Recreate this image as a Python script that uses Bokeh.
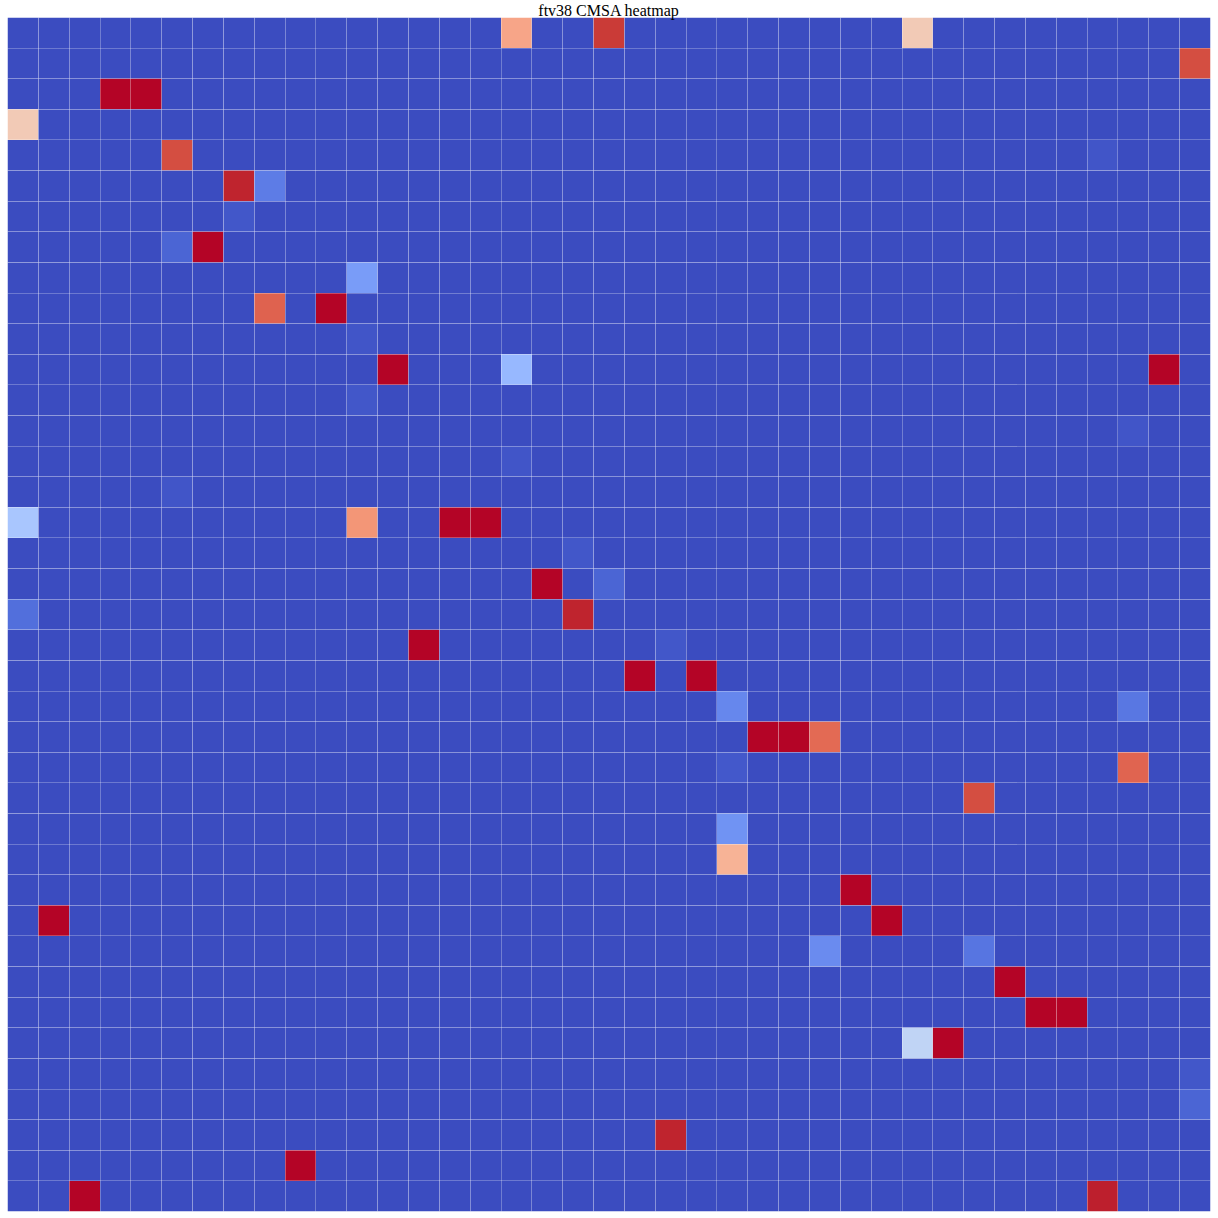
from bokeh.plotting import figure
from bokeh.models import Range1d, LinearColorMapper, ColumnDataSource, Grid, FixedTicker
from bokeh.embed import file_html
from bokeh.resources import INLINE

# ---- data ----
N = 39
title_text = "ftv38 CMSA heatmap"
rows = [0, 0, 0, 1, 2, 2, 3, 4, 4, 5, 5, 6, 7, 7, 8, 9, 9, 10, 11, 11, 11, 12, 13, 14, 15,
        16, 16, 16, 16, 17, 18, 18, 19, 19, 20, 20, 21, 21, 22, 22, 23, 23, 23, 24, 24, 25,
        26, 27, 28, 29, 29, 30, 30, 31, 32, 32, 33, 33, 34, 35, 36, 37, 38, 38]
cols = [16, 19, 29, 38, 3, 4, 0, 5, 35, 7, 8, 7, 5, 6, 11, 8, 10, 11, 12, 16, 37, 11, 36, 16, 5,
        0, 11, 14, 15, 18, 17, 19, 0, 18, 13, 21, 20, 22, 23, 36, 24, 25, 26, 23, 36, 31,
        23, 23, 27, 1, 28, 26, 31, 32, 33, 34, 29, 30, 38, 38, 21, 9, 2, 35]
vals = [0.72, 0.94, 0.60, 0.91, 1.0, 1.0, 0.60, 0.91, 0.02, 0.97, 0.11, 0.025, 0.055, 1.0, 0.195,
        0.87, 1.0, 0.02, 1.0, 0.28, 1.0, 0.025, 0.02, 0.02, 0.02,
        0.33, 0.76, 1.0, 1.0, 0.025, 1.0, 0.055, 0.08, 0.97, 1.0, 0.025, 1.0, 1.0, 0.14, 0.10,
        1.0, 1.0, 0.855, 0.03, 0.865, 0.91,
        0.17, 0.68, 1.0, 1.0, 1.0, 0.15, 0.095, 1.0, 1.0, 1.0, 0.40, 1.0, 0.025, 0.055, 0.97,
        1.0, 1.0, 0.975]

# ---- full matrix ----
matrix = [[0.0] * N for _ in range(N)]
for r, c, v in zip(rows, cols, vals):
    matrix[r][c] = v

xs, ys, zs = [], [], []
for r in range(N):
    for c in range(N):
        xs.append(c + 0.5)
        ys.append(r + 0.5)
        zs.append(matrix[r][c])
src = ColumnDataSource(dict(x=xs, y=ys, z=zs))

# ---- coolwarm palette (Moreland anchors) ----
anchors = [(59,76,192),(68,90,204),(77,104,215),(87,117,225),(98,130,234),(108,142,241),
           (119,154,247),(130,165,251),(141,176,254),(152,185,255),(163,194,255),(174,201,253),
           (184,208,249),(194,213,244),(204,217,238),(213,219,230),(221,221,221),(229,216,209),
           (236,211,197),(241,204,184),(245,196,172),(247,187,160),(247,177,148),(247,166,137),
           (244,154,123),(241,141,111),(236,127,99),(229,112,88),(222,96,77),(213,80,66),
           (203,62,56),(192,40,47),(180,4,38)]
palette = []
for i in range(256):
    t = i / 255 * (len(anchors) - 1)
    k = min(int(t), len(anchors) - 2)
    f = t - k
    a, b = anchors[k], anchors[k + 1]
    rgb = tuple(round(a[j] + (b[j] - a[j]) * f) for j in range(3))
    palette.append("#%02x%02x%02x" % rgb)

mapper = LinearColorMapper(palette=palette, low=0, high=1)

p = figure(width=1218, height=1218, output_backend="svg", toolbar_location=None,
           x_range=Range1d(0, N), y_range=Range1d(N, 0),
           x_axis_location=None, y_axis_location=None,
           min_border_left=7, min_border_right=8, min_border_bottom=7, min_border_top=0,
           title=title_text)
p.title.text_font = "Liberation Serif"
p.title.text_font_style = "normal"
p.title.text_font_size = "16px"
p.title.text_color = "black"
p.title.align = "center"
p.title.standoff = -2
p.title.offset = 0

p.rect(x="x", y="y", width=1, height=1, source=src,
       fill_color={"field": "z", "transform": mapper}, line_color=None)

p.grid.visible = False
ticks = list(range(N + 1))
for dim in (0, 1):
    g = Grid(dimension=dim, ticker=FixedTicker(ticks=ticks),
             grid_line_color="white", grid_line_alpha=0.25, grid_line_width=1)
    g.level = "overlay"
    p.add_layout(g, "center")

p.outline_line_color = "white"
p.outline_line_alpha = 0.4
p.background_fill_color = "white"
p.border_fill_color = "white"

open("out.html", "w").write(file_html(p, INLINE))
